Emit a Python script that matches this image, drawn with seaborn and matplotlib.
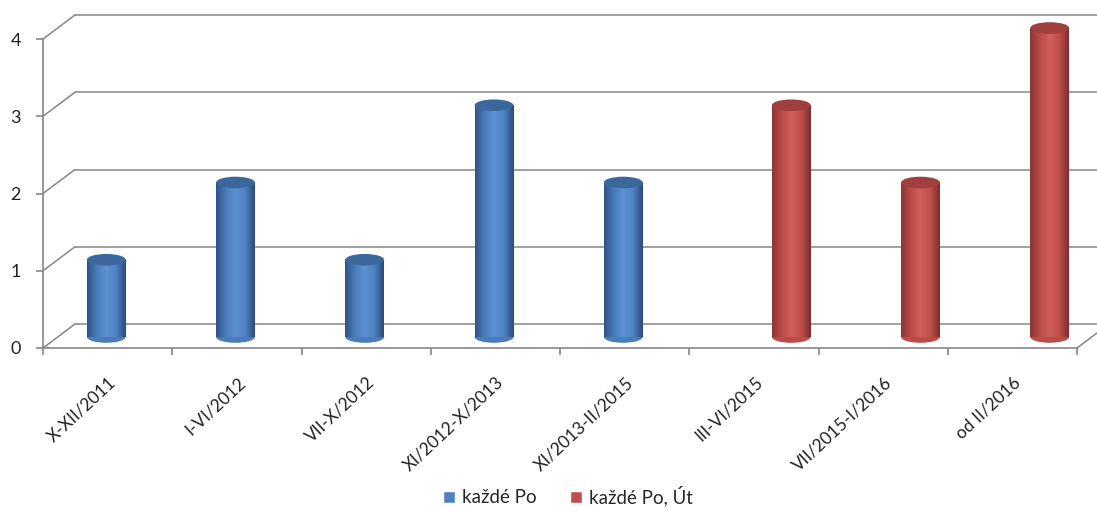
import numpy as np
import pandas as pd
import matplotlib.pyplot as plt
import matplotlib.transforms as mtransforms
from matplotlib.patches import Ellipse
from matplotlib.colors import LinearSegmentedColormap
import seaborn as sns

# Data
categories = ['X-XII/2011', 'I-VI/2012', 'VII-X/2012', 'XI/2012-X/2013',
              'XI/2013-II/2015', 'III-VI/2015', 'VII/2015-I/2016', 'od II/2016']
po = [1, 2, 1, 3, 2, np.nan, np.nan, np.nan]
po_ut = [np.nan, np.nan, np.nan, np.nan, np.nan, 3, 2, 4]
series_names = ['každé Po', 'každé Po, Út']
yticks = [0, 1, 2, 3, 4]

# Style
colors = ['#4F81BD', '#C0504D']
shades = {
    '#4F81BD': ['#2F5487', '#4A7CBA', '#5C91D2', '#4F83C2', '#2B4C7C'],
    '#C0504D': ['#8E3533', '#B94C49', '#D25E5B', '#C0504D', '#7E2E2C'],
}
cap_colors = {'#4F81BD': '#3C679D', '#C0504D': '#A03F3D'}
GRAY = '#868686'

df = pd.DataFrame({
    'Období': categories * 2,
    'Počet': po + po_ut,
    'Série': [series_names[0]] * len(categories) + [series_names[1]] * len(categories),
}).dropna()

sns.set_style('white')
plt.rcParams['font.family'] = ['Lato', 'DejaVu Sans']

fig = plt.figure(figsize=(10.97, 5.09), dpi=100)
ax = fig.add_axes([43 / 1097, 1 - 348 / 509, 1034 / 1097, 309 / 509])

sns.barplot(data=df, x='Období', y='Počet', hue='Série', order=categories,
            hue_order=series_names, palette=colors, saturation=1, width=0.6,
            dodge=True, ax=ax, zorder=2)

ax.set_xlim(-0.5, len(categories) - 0.5)
ax.set_ylim(0, 4)

# pseudo 3D: bars sit a bit deeper than the front axis, walls at the back
depth = mtransforms.ScaledTranslation(0.18, 0.11, fig.dpi_scale_trans)
back = mtransforms.ScaledTranslation(0.32, 0.24, fig.dpi_scale_trans)
bar_tr = ax.transData + depth
cap_h = 0.15


def nearest_key(fc):
    return min(shades, key=lambda k: sum(abs(int(k[i:i + 2], 16) - int(fc[i:i + 2], 16))
                                         for i in (1, 3, 5)))


for bar in list(ax.patches):
    x, w, h = bar.get_x(), bar.get_width(), bar.get_height()
    if not np.isfinite(h) or h == 0:
        continue
    fc = '#%02X%02X%02X' % tuple(int(round(c * 255)) for c in bar.get_facecolor()[:3])
    key = nearest_key(fc)
    bar.set_transform(bar_tr)
    bar.set_edgecolor('none')
    bar.set_clip_on(False)
    cmap = LinearSegmentedColormap.from_list('cyl', shades[key])
    im = ax.imshow(np.linspace(0, 1, 64)[np.newaxis, :], extent=[x, x + w, 0, h],
                   cmap=cmap, aspect='auto', transform=bar_tr, zorder=2.1,
                   interpolation='bilinear')
    im.set_clip_path(bar)
    im.set_clip_box(fig.bbox)
    bottom = Ellipse((x + w / 2, 0), w, cap_h, transform=bar_tr,
                     facecolor=shades[key][1], edgecolor='none', zorder=1.9)
    ax.add_patch(bottom)
    bottom.set_clip_on(False)
    top = Ellipse((x + w / 2, h), w, cap_h, transform=bar_tr,
                  facecolor=cap_colors[key], edgecolor='none', zorder=3)
    ax.add_patch(top)
    top.set_clip_on(False)

ax.set_xlim(-0.5, len(categories) - 0.5)
ax.set_ylim(0, 4)

# back wall gridlines and the left wall diagonals
for y in yticks:
    ax.plot([-0.5, len(categories) - 0.5], [y, y], color=GRAY, lw=1.1,
            transform=ax.transData + back, clip_on=False, zorder=0.5)
    ax.annotate('', xy=(-0.5, y), xytext=(32, 24), textcoords='offset pixels',
                arrowprops=dict(arrowstyle='-', color=GRAY, lw=1.1, shrinkA=0, shrinkB=0),
                annotation_clip=False, zorder=0.5)
ax.annotate('', xy=(len(categories) - 0.5, 0), xytext=(32, 24), textcoords='offset pixels',
            arrowprops=dict(arrowstyle='-', color=GRAY, lw=1.1, shrinkA=0, shrinkB=0),
            annotation_clip=False, zorder=0.5)

# axes
for s in ['top', 'right']:
    ax.spines[s].set_visible(False)
for s in ['left', 'bottom']:
    ax.spines[s].set_color(GRAY)
    ax.spines[s].set_linewidth(1.2)

ax.set_yticks(yticks)
ax.tick_params(axis='y', left=True, length=5, width=1.2, color=GRAY,
               labelsize=13, pad=11, labelcolor='#222222')
ax.set_xticks(range(len(categories)))
ax.set_xticks(np.arange(-0.5, len(categories)), minor=True)
ax.tick_params(axis='x', which='major', length=0, pad=23)
ax.tick_params(axis='x', which='minor', bottom=True, length=5, width=1.2, color=GRAY)
ax.set_xticklabels(categories, rotation=43, ha='right', va='center',
                   rotation_mode='anchor', fontsize=12.5, color='#222222')
shift = mtransforms.ScaledTranslation(0.06, 0, fig.dpi_scale_trans)
for lab in ax.get_xticklabels():
    lab.set_transform(lab.get_transform() + shift)
ax.set_xlabel('')
ax.set_ylabel('')
ax.grid(False)

handles, labels = ax.get_legend_handles_labels()
if ax.get_legend() is not None:
    ax.get_legend().remove()
fig.legend(handles, labels, loc='center', bbox_to_anchor=(0.518, 1 - 496 / 509),
           ncol=2, frameon=False, fontsize=13.5, handlelength=0.6, handleheight=0.6,
           handletextpad=0.4, columnspacing=1.8)

fig.savefig('out.png', dpi=100)
